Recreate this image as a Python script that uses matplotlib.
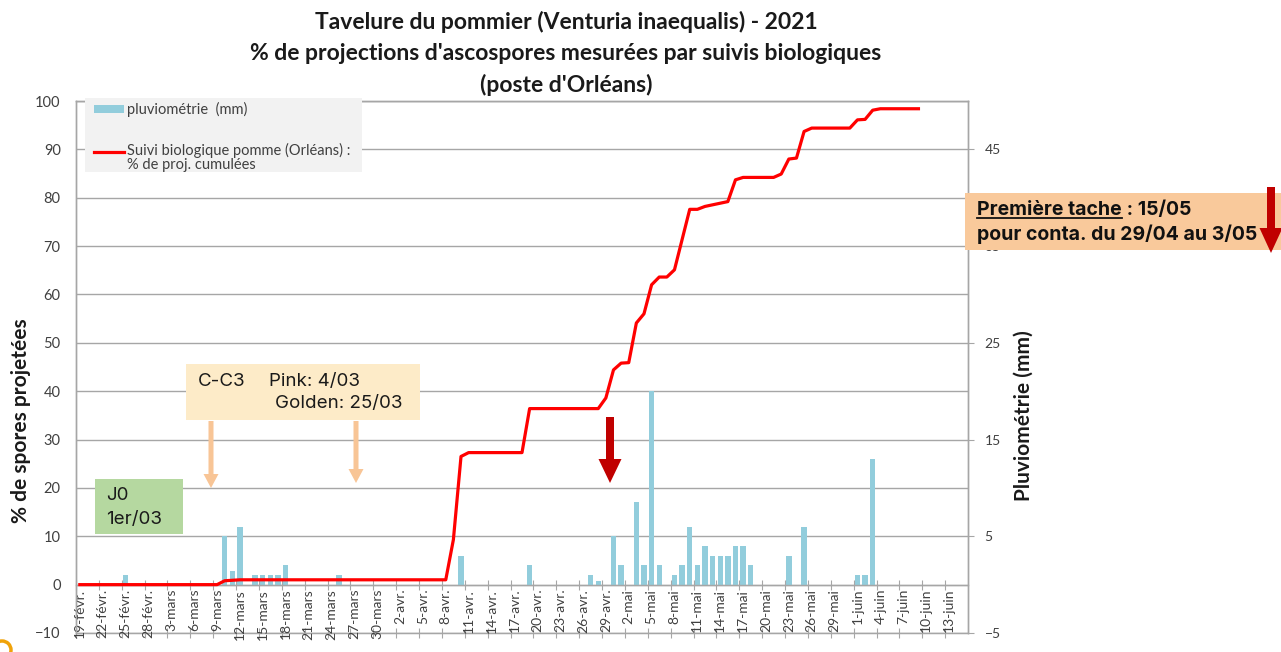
import matplotlib
matplotlib.use("Agg")
import matplotlib.pyplot as plt
from matplotlib.patches import Rectangle, FancyArrow, Circle
import numpy as np
import pandas as pd

plt.rcParams['font.family'] = ['Lato', 'DejaVu Sans']

debut = pd.Timestamp('2021-02-19')
fin = pd.Timestamp('2021-06-15')

# pluviométrie journalière (mm), axe de droite
pluie_dates = ['2021-02-25', '2021-03-10', '2021-03-11', '2021-03-12', '2021-03-14',
               '2021-03-15', '2021-03-16', '2021-03-17', '2021-03-18', '2021-03-25',
               '2021-04-10', '2021-04-19', '2021-04-27', '2021-04-28', '2021-04-30',
               '2021-05-01', '2021-05-03', '2021-05-04', '2021-05-05', '2021-05-06',
               '2021-05-08', '2021-05-09', '2021-05-10', '2021-05-11', '2021-05-12',
               '2021-05-13', '2021-05-14', '2021-05-15', '2021-05-16', '2021-05-17',
               '2021-05-18', '2021-05-23', '2021-05-25', '2021-06-01', '2021-06-02',
               '2021-06-03']
pluie_mm = [1, 5, 1.4, 6, 1, 1, 1, 1, 2, 1,
            3, 2, 1, 0.4, 5, 2, 8.5, 2, 20, 2,
            1, 2, 6, 2, 4, 3, 3, 3, 4, 4,
            2, 3, 6, 1, 1, 13]

# suivi biologique : % de projections cumulées (axe de gauche)
suivi_dates = ['2021-02-19', '2021-03-09', '2021-03-10', '2021-03-12', '2021-04-08',
               '2021-04-09', '2021-04-10', '2021-04-11', '2021-04-18', '2021-04-19',
               '2021-04-28', '2021-04-29', '2021-04-30', '2021-05-01', '2021-05-02',
               '2021-05-03', '2021-05-04', '2021-05-05', '2021-05-06', '2021-05-07',
               '2021-05-08', '2021-05-10', '2021-05-11', '2021-05-12', '2021-05-15',
               '2021-05-16', '2021-05-17', '2021-05-21', '2021-05-22', '2021-05-23',
               '2021-05-24', '2021-05-25', '2021-05-26', '2021-05-31', '2021-06-01',
               '2021-06-02', '2021-06-03', '2021-06-04', '2021-06-09']
suivi_pct = [0, 0, 0.8, 1.0, 1.0, 9.3, 26.5, 27.3, 27.3, 36.4,
             36.4, 38.6, 44.4, 45.8, 45.9, 54.1, 56.0, 62.0, 63.6, 63.6,
             65.1, 77.6, 77.6, 78.2, 79.2, 83.7, 84.2, 84.2, 84.9, 88.0,
             88.2, 93.7, 94.4, 94.4, 96.1, 96.2, 98.1, 98.4, 98.4]

mois = {2: 'févr.', 3: 'mars', 4: 'avr.', 5: 'mai', 6: 'juin'}


def jour(d):
    return (pd.Timestamp(d) - debut).days


n_jours = (fin - debut).days + 1
x_pluie = [jour(d) for d in pluie_dates]
x_suivi = [jour(d) for d in suivi_dates]
lab_pos = np.arange(0, n_jours - 2, 3)
lab_txt = [f"{(debut + pd.Timedelta(days=int(i))).day}-{mois[(debut + pd.Timedelta(days=int(i))).month]}"
           for i in lab_pos]

gris = '#a6a6a6'
txt = '#404040'
bleu = '#92cddc'
rouge = '#ff0000'

fig = plt.figure(figsize=(12.81, 6.52), dpi=100)
ax = fig.add_axes([76 / 1281, 19 / 652, 892 / 1281, 532 / 652])
ax2 = ax.twinx()

bars = ax2.bar(x_pluie, pluie_mm, width=0.7, color=bleu, zorder=2)
ax2.set_ylim(-5, 50)
ax2.set_yticks([-5, 5, 15, 25, 35, 45])
ax2.set_yticks(range(0, 51, 10), minor=True)
ax2.yaxis.grid(True, which='both', color=gris, lw=1.0)
ax2.set_axisbelow(True)
ax2.tick_params(axis='y', which='minor', length=0)
ax2.tick_params(axis='y', which='major', direction='out', length=4, color=gris,
                labelcolor=txt, labelsize=10, pad=8)

ax.set_zorder(ax2.get_zorder() + 1)
ax.patch.set_visible(False)
line, = ax.plot(x_suivi, suivi_pct, color=rouge, lw=2.3, zorder=3)
ax.set_ylim(-10, 100)
ax.set_yticks(range(-10, 101, 10))
ax.set_xlim(-0.5, n_jours - 0.5)
ax.tick_params(axis='y', length=0, labelcolor=txt, labelsize=10.5, pad=11)

ax.set_xticks(np.arange(-0.5, n_jours - 0.5, 3))
ax.set_xticks(lab_pos, labels=lab_txt, minor=True)
ax.tick_params(axis='x', which='major', direction='inout', length=7, color=gris, labelbottom=False)
ax.tick_params(axis='x', which='minor', length=0, labelrotation=90, labelsize=10,
               labelcolor=txt, pad=3)
ax.spines['bottom'].set_position(('data', 0))

sec = ax.secondary_xaxis('bottom')
sec.set_xticks(np.arange(-0.5, n_jours - 0.5, 3), labels=[])
sec.tick_params(direction='inout', length=7, color=gris)
sec.spines['bottom'].set_color(gris)

for a in (ax, ax2):
    for s in a.spines.values():
        s.set_color(gris)
        s.set_linewidth(1.0)

# titres
titres = ["Tavelure du pommier (Venturia inaequalis) - 2021",
          "% de projections d'ascospores mesurées par suivis biologiques",
          "(poste d'Orléans)"]
for t, yy in zip(titres, [22, 53, 85]):
    fig.text(566 / 1281, 1 - yy / 652, t, ha='center', va='center',
             fontsize=16.5, fontweight='bold', color='#1a1a1a')

fig.text(21 / 1281, 1 - 421 / 652, '% de spores projetées', rotation=90, ha='center',
         va='center', fontsize=15, fontweight='bold', color='#1a1a1a')
fig.text(1024 / 1281, 1 - 416 / 652, 'Pluviométrie (mm)', rotation=90, ha='center',
         va='center', fontsize=15, fontweight='bold', color='#1a1a1a')

# légende et annotations (repère en pixels)
ov = fig.add_axes([0, 0, 1, 1], zorder=10)
ov.set_xlim(0, 1281)
ov.set_ylim(652, 0)
ov.axis('off')

ov.add_patch(Rectangle((85, 98), 277, 74, color='#f2f2f2', lw=0))
ov.add_patch(Rectangle((94, 105), 30, 8, color=bleu, lw=0))
ov.text(127, 109, 'pluviométrie  (mm)', fontsize=10.5, va='center', color=txt)
ov.plot([94, 124], [152, 152], color=rouge, lw=2.3)
ov.text(127, 150, 'Suivi biologique pomme (Orléans) :', fontsize=10.5, va='center', color=txt)
ov.text(127, 165, '% de proj. cumulées', fontsize=10.5, va='center', color=txt)

fa = ['Inter', 'DejaVu Sans']
ov.add_patch(Rectangle((186, 364), 234, 56, color='#fdebc8', lw=0))
ov.text(198, 382, 'C-C3', fontsize=13.5, family=fa, va='center', color='#1a1a1a')
ov.text(269, 382, 'Pink: 4/03', fontsize=13.5, family=fa, va='center', color='#1a1a1a')
ov.text(275, 404, 'Golden: 25/03', fontsize=13.5, family=fa, va='center', color='#1a1a1a')
for xa, tip in [(211, 488), (356, 483)]:
    ov.add_patch(FancyArrow(xa, 421, 0, tip - 421, width=5, head_width=15, head_length=14,
                            length_includes_head=True, color='#f8c596', lw=0))

ov.add_patch(Rectangle((95, 479), 88, 55, color='#b5d8a0', lw=0))
ov.text(106, 496, 'J0', fontsize=13.5, family=fa, va='center', color='#1a1a1a')
ov.text(106, 519, '1er/03', fontsize=13.5, family=fa, va='center', color='#1a1a1a')

ov.add_patch(FancyArrow(610, 417, 0, 66, width=8, head_width=23, head_length=24,
                        length_includes_head=True, color='#c00000', lw=0))

ov.add_patch(Rectangle((965, 193), 320, 57, color='#f9c99b', lw=0))
t1 = ov.text(977, 210, 'Première tache', fontsize=14, family=fa, fontweight='bold',
             va='center', color='#111111')
fig.canvas.draw()
bb = t1.get_window_extent(fig.canvas.get_renderer())
x_end = ov.transData.inverted().transform((bb.x1, bb.y0))[0]
ov.plot([977, x_end], [218, 218], color='#111111', lw=1.3)
ov.text(x_end, 210, ' : 15/05', fontsize=14, family=fa, fontweight='bold', va='center',
        color='#111111')
ov.text(977, 234, 'pour conta. du 29/04 au 3/05', fontsize=14, family=fa, fontweight='bold',
        va='center', color='#111111')
ov.add_patch(FancyArrow(1271, 187, 0, 66, width=8, head_width=23, head_length=25,
                        length_includes_head=True, color='#c00000', lw=0))

ov.add_patch(Circle((2, 650), 9, fill=False, ec='#f0a30a', lw=2.5))

fig.savefig('out.png', dpi=100)
